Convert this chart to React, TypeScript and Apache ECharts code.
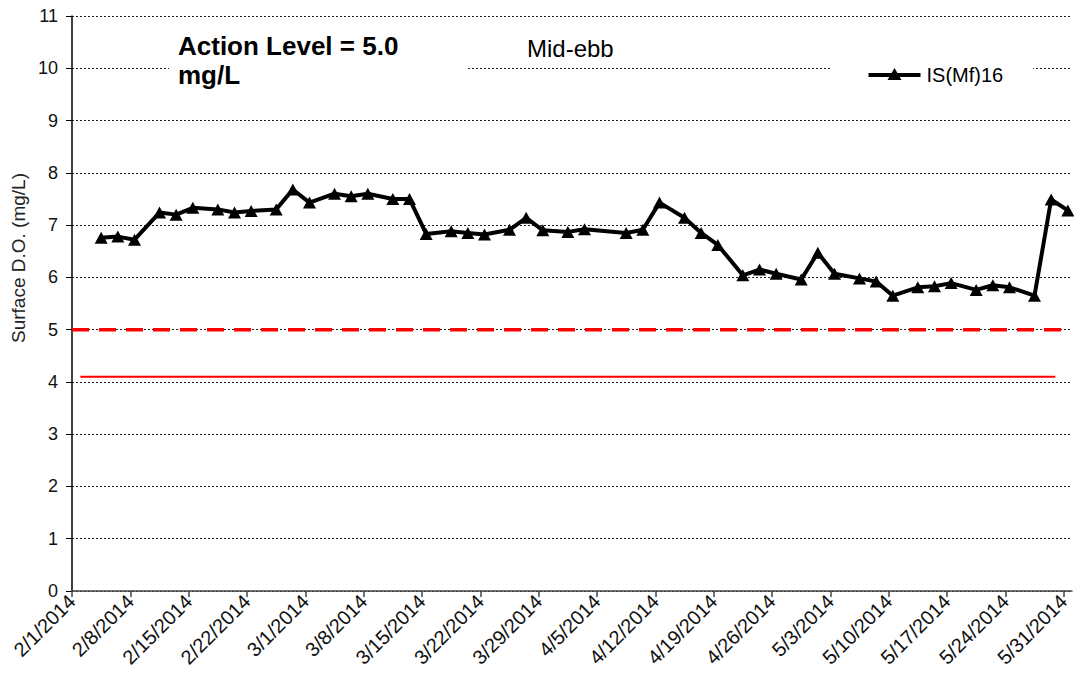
import React, { useEffect, useRef } from "react";
import * as echarts from "echarts";

const sampleDates = [
  "2014-02-04", "2014-02-06", "2014-02-08", "2014-02-11", "2014-02-13", "2014-02-15",
  "2014-02-18", "2014-02-20", "2014-02-22", "2014-02-25", "2014-02-27", "2014-03-01",
  "2014-03-04", "2014-03-06", "2014-03-08", "2014-03-11", "2014-03-13", "2014-03-15",
  "2014-03-18", "2014-03-20", "2014-03-22", "2014-03-25", "2014-03-27", "2014-03-29",
  "2014-04-01", "2014-04-03", "2014-04-08", "2014-04-10", "2014-04-12", "2014-04-15",
  "2014-04-17", "2014-04-19", "2014-04-22", "2014-04-24", "2014-04-26", "2014-04-29",
  "2014-05-01", "2014-05-03", "2014-05-06", "2014-05-08", "2014-05-10", "2014-05-13",
  "2014-05-15", "2014-05-17", "2014-05-20", "2014-05-22", "2014-05-24", "2014-05-27",
  "2014-05-29", "2014-05-31",
];
// sampling time of day (hours) for each monitoring visit
const sampleHour = 12;
const doValues = [
  6.76, 6.78, 6.72, 7.24, 7.2, 7.33,
  7.3, 7.24, 7.27, 7.3, 7.68, 7.43,
  7.6, 7.55, 7.6, 7.5, 7.5, 6.83,
  6.88, 6.85, 6.82, 6.91, 7.14, 6.9,
  6.87, 6.92, 6.85, 6.91, 7.43, 7.14,
  6.85, 6.62, 6.04, 6.15, 6.07, 5.96,
  6.47, 6.07, 5.98, 5.92, 5.65, 5.81,
  5.83, 5.89, 5.76, 5.85, 5.81, 5.65,
  7.49, 7.28,
];
const seriesName = "IS(Mf)16";
const actionLevel = 5.0;
const actionLineDates = ["2014-02-01", "2014-05-31"];
const limitLevel = 4.1;
const limitLineDates = ["2014-02-02", "2014-05-30"];
const axisStartDate = "2014-02-01";
const axisEndDate = "2014-06-01";
const yTicks = [0, 1, 2, 3, 4, 5, 6, 7, 8, 9, 10, 11];
const yTitle = "Surface D.O. (mg/L)";
const noteText = "Action Level = 5.0\nmg/L";
const tideText = "Mid-ebb";

const DAY = 86400000;
function toUTC(s: string) {
  const [y, m, d] = s.split("-").map(Number);
  return Date.UTC(y, m - 1, d);
}
const origin = toUTC(axisStartDate);
const dayOf = (s: string) => (toUTC(s) - origin) / DAY;
const fmt = (day: number) => {
  const dt = new Date(origin + day * DAY);
  return `${dt.getUTCMonth() + 1}/${dt.getUTCDate()}/${dt.getUTCFullYear()}`;
};

const FONT = "'Liberation Sans', Arial, sans-serif";

export default function App() {
  const ref = useRef<HTMLDivElement>(null);
  useEffect(() => {
    document.body.style.margin = "0";
    const chart = echarts.init(ref.current!, null, { renderer: "svg" });
    const maxDay = dayOf(axisEndDate);
    const weekTicks: number[] = [];
    for (let d = 0; d < maxDay; d += 7) weekTicks.push(d);

    chart.setOption({
      animation: false,
      backgroundColor: "#fff",
      textStyle: { fontFamily: FONT },
      grid: { left: 72, right: 2, top: 16, bottom: 99, containLabel: false },
      xAxis: {
        type: "value",
        min: 0,
        max: maxDay,
        interval: 7,
        axisLine: { show: true, onZero: false, lineStyle: { color: "#444", width: 1.5 } },
        axisTick: {
          show: true,
          length: 6,
          lineStyle: { color: "#444", width: 1.5 },
          customValues: weekTicks,
        },
        axisLabel: {
          rotate: 45,
          fontSize: 20,
          color: "#111",
          margin: 7,
          customValues: weekTicks,
          formatter: (v: number) => fmt(v),
          fontFamily: FONT,
        },
        splitLine: { show: false },
      },
      yAxis: {
        type: "value",
        min: 0,
        max: 11,
        interval: 1,
        axisLine: { show: true, lineStyle: { color: "#000", width: 1.5 } },
        axisTick: { show: true, length: 6, lineStyle: { color: "#000" } },
        axisLabel: {
          fontSize: 18,
          color: "#111",
          margin: 14,
          fontFamily: FONT,
          formatter: (v: number) => (yTicks.includes(v) ? String(v) : ""),
        },
        splitLine: { show: true, lineStyle: { color: "#222", type: [2, 2], width: 1 } },
      },
      graphic: [
        { type: "rect", z: 1, shape: { x: 169, y: 28, width: 299, height: 70 }, style: { fill: "#fff" } },
        { type: "rect", z: 1, shape: { x: 831, y: 55, width: 202, height: 40 }, style: { fill: "#fff" } },
        {
          type: "text", z: 6, left: 178, top: 31,
          style: { text: noteText, font: `bold 26px ${FONT}`, fill: "#000", lineHeight: 29 },
        },
        {
          type: "text", z: 6, left: 527, top: 36,
          style: { text: tideText, font: `24px ${FONT}`, fill: "#000" },
        },
        {
          type: "text", z: 6, x: 18, y: 258, rotation: Math.PI / 2,
          style: { text: yTitle, font: `19px ${FONT}`, fill: "#222", align: "center", verticalAlign: "middle" },
        },
        {
          type: "group", z: 6, left: 866, top: 65,
          children: [
            { type: "line", shape: { x1: 0, y1: 10, x2: 52, y2: 10 }, style: { stroke: "#000", lineWidth: 4 }, z: 6 },
            { type: "polygon", shape: { points: [[26, 3], [33, 15], [19, 15]] }, style: { fill: "#000" }, z: 7 },
            { type: "text", x: 58, y: 10, style: { text: seriesName, font: `20px ${FONT}`, fill: "#000", verticalAlign: "middle" }, z: 7 },
          ],
        },
      ],
      series: [
        {
          name: "Action",
          type: "line",
          data: actionLineDates.map((d) => [dayOf(d), actionLevel]),
          symbol: "none",
          lineStyle: { color: "#ff0000", width: 3.5, type: [17, 10] },
          z: 2,
        },
        {
          name: "Limit",
          type: "line",
          data: limitLineDates.map((d) => [dayOf(d), limitLevel]),
          symbol: "none",
          lineStyle: { color: "#ff0000", width: 2 },
          z: 2,
        },
        {
          name: seriesName,
          type: "line",
          data: sampleDates.map((d, i) => [dayOf(d) + sampleHour / 24, doValues[i]]),
          symbol: "triangle",
          symbolSize: [13, 12],
          itemStyle: { color: "#000" },
          lineStyle: { color: "#000", width: 4 },
          z: 3,
        },
      ],
    });
    return () => chart.dispose();
  }, []);
  return <div ref={ref} style={{ width: 1074, height: 690 }} />;
}
